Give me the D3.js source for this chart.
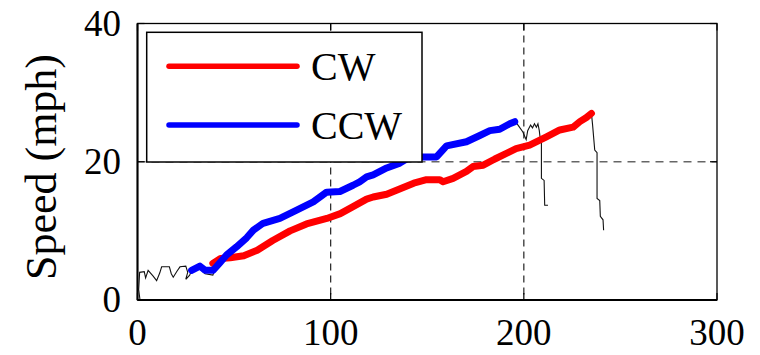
<!DOCTYPE html>
<html>
<head>
<meta charset="utf-8">
<script src="https://cdn.jsdelivr.net/npm/d3@7"></script>
<style>
  html, body { margin: 0; padding: 0; background: #fff; }
</style>
</head>
<body>
<svg id="chart" width="760" height="355"></svg>
<script>
// ---- data ----
const xTicks = [0, 100, 200, 300];
const yTicks = [0, 20, 40];
const seriesNames = ["CW", "CCW"];
const seriesColors = ["#ff0000", "#0000ff"];
const yLabel = "Speed (mph)";

// CW run (red)
const cwTime = [39, 43, 48, 55, 62, 70, 79, 87.5, 98, 105, 111.6, 118.6, 122, 129, 136, 143, 149.6, 156.5, 158.2, 163.4, 170.3, 173.7, 179, 185, 191, 196, 203, 211.7, 218.6, 225.5, 229, 232.4, 235];
const cwSpeed = [5.3, 6.0, 6.1, 6.4, 7.2, 8.6, 10.0, 11.0, 11.8, 12.5, 13.5, 14.6, 14.9, 15.3, 16.1, 16.9, 17.4, 17.4, 17.1, 17.6, 18.6, 19.3, 19.5, 20.4, 21.2, 21.9, 22.4, 23.6, 24.6, 25.0, 25.8, 26.4, 27.0];

// CCW run (blue)
const ccwTime = [28, 32.3, 35, 39.2, 42.7, 46.1, 51.3, 56.5, 60, 65, 73.7, 82.4, 91, 97.9, 104.8, 111.6, 115, 118.6, 122, 129, 135.8, 141, 154.8, 160, 170.3, 177.2, 182.4, 187.5, 192.7, 195.3];
const ccwSpeed = [4.3, 4.9, 4.3, 4.3, 5.4, 6.5, 7.7, 9.0, 10.1, 11.1, 11.8, 13.0, 14.2, 15.6, 15.7, 16.6, 17.1, 17.8, 18.1, 19.1, 19.8, 20.7, 20.7, 22.3, 22.9, 23.8, 24.5, 24.7, 25.5, 25.8];

// raw trace (thin black): start noise, CCW tail, CW tail
const rawStartTime = [1.3, 0.6, 1.1, 3.5, 4.2, 5.5, 8, 9.9, 11.5, 12.5, 16.5, 17.5, 18.5, 20.5, 22, 25, 26, 25, 27, 28, 32, 35, 39, 40];
const rawStartSpeed = [0, 1.5, 4.0, 4.1, 3.2, 4.3, 3.5, 2.8, 3.9, 4.8, 4.8, 3.8, 3.3, 4.2, 4.8, 4.9, 4.0, 3.0, 3.6, 4.3, 4.6, 3.8, 3.6, 4.3];
const rawCcwTailTime = [195.3, 197, 199.5, 201.2, 202, 203.5, 204.5, 205.5, 206.5, 207.3, 208, 208.5, 209.1, 209.1, 210.5, 210.8, 212.5];
const rawCcwTailSpeed = [25.8, 25.3, 24.3, 23.2, 24.5, 25.3, 24.9, 25.5, 25.0, 25.5, 24.5, 23.3, 22.7, 17.6, 17.3, 13.7, 13.7];
const rawCwTailTime = [235, 235.6, 236.7, 237.9, 237.9, 239.3, 239.6, 241, 241.3];
const rawCwTailSpeed = [27.0, 25.3, 21.7, 21.3, 14.7, 14.4, 12.1, 11.6, 10.1];

// ---- drawing ----
const FONT = "'Liberation Serif', Tinos, 'Times New Roman', Times, 'DejaVu Serif', 'Noto Serif', serif";
const svg = d3.select("#chart");
const pL = 137.5, pR = 717, pT = 23.5, pB = 300;
const x = d3.scaleLinear().domain([0, 300]).range([pL, pR]);
const y = d3.scaleLinear().domain([0, 40]).range([pB, pT]);

const zip = (a, b) => a.map((v, i) => [v, b[i]]);
const line = d3.line().x(d => x(d[0])).y(d => y(d[1]));

// grid lines (dashed) at interior ticks
svg.append("g").selectAll("line")
  .data(xTicks.filter(t => t > 0 && t < 300))
  .join("line")
  .attr("x1", d => x(d)).attr("x2", d => x(d))
  .attr("y1", pT).attr("y2", pB)
  .attr("stroke", "#222").attr("stroke-width", 1.2)
  .attr("stroke-dasharray", "7,5");
svg.append("g").selectAll("line")
  .data(yTicks.filter(t => t > 0 && t < 40))
  .join("line")
  .attr("x1", pL).attr("x2", pR)
  .attr("y1", d => y(d)).attr("y2", d => y(d))
  .attr("stroke", "#666").attr("stroke-width", 1.5)
  .attr("stroke-dasharray", "8,6");

// raw traces
[[rawStartTime, rawStartSpeed], [rawCcwTailTime, rawCcwTailSpeed], [rawCwTailTime, rawCwTailSpeed]].forEach(([t, s]) => {
  svg.append("path").datum(zip(t, s))
    .attr("d", line).attr("fill", "none")
    .attr("stroke", "#111").attr("stroke-width", 1.1)
    .attr("stroke-linejoin", "miter");
});

// series
const seriesData = [zip(cwTime, cwSpeed), zip(ccwTime, ccwSpeed)];
seriesData.forEach((d, i) => {
  svg.append("path").datum(d)
    .attr("d", line).attr("fill", "none")
    .attr("stroke", seriesColors[i]).attr("stroke-width", 7)
    .attr("stroke-linejoin", "round").attr("stroke-linecap", "round");
});

// frame
svg.append("rect")
  .attr("x", pL).attr("y", pT)
  .attr("width", pR - pL).attr("height", pB - pT)
  .attr("fill", "none").attr("stroke", "#000").attr("stroke-width", 1.3);
svg.append("line").attr("x1", pL).attr("x2", pL).attr("y1", pT).attr("y2", pB)
  .attr("stroke", "#000").attr("stroke-width", 2);
svg.append("line").attr("x1", pL).attr("x2", pR).attr("y1", pB).attr("y2", pB)
  .attr("stroke", "#000").attr("stroke-width", 2);

// inward ticks
const tl = 7;
xTicks.forEach(t => {
  svg.append("line").attr("x1", x(t)).attr("x2", x(t)).attr("y1", pB).attr("y2", pB - tl).attr("stroke", "#000").attr("stroke-width", 1.2);
  svg.append("line").attr("x1", x(t)).attr("x2", x(t)).attr("y1", pT).attr("y2", pT + tl).attr("stroke", "#000").attr("stroke-width", 1.2);
});
yTicks.forEach(t => {
  svg.append("line").attr("x1", pL).attr("x2", pL + tl).attr("y1", y(t)).attr("y2", y(t)).attr("stroke", "#000").attr("stroke-width", 1.2);
  svg.append("line").attr("x1", pR).attr("x2", pR - tl).attr("y1", y(t)).attr("y2", y(t)).attr("stroke", "#000").attr("stroke-width", 1.2);
});

// tick labels
svg.append("g").selectAll("text")
  .data(xTicks).join("text")
  .attr("x", d => x(d)).attr("y", 345)
  .attr("text-anchor", "middle")
  .attr("font-family", FONT).attr("font-size", 37)
  .text(d => d);
svg.append("g").selectAll("text")
  .data(yTicks).join("text")
  .attr("x", 121).attr("y", d => y(d) + 12)
  .attr("text-anchor", "end")
  .attr("font-family", FONT).attr("font-size", 37)
  .text(d => d);

// y label
svg.append("text")
  .attr("transform", "translate(56,167) rotate(-90)")
  .attr("text-anchor", "middle")
  .attr("font-family", FONT).attr("font-size", 44)
  .text(yLabel);

// legend
const lg = svg.append("g");
lg.append("rect")
  .attr("x", 146.7).attr("y", 32.3)
  .attr("width", 422 - 146.7).attr("height", 162 - 32.3)
  .attr("fill", "#fff").attr("stroke", "#000").attr("stroke-width", 1.5);
const legendRows = [66.3, 125];
seriesNames.forEach((n, i) => {
  lg.append("line")
    .attr("x1", 169).attr("x2", 297)
    .attr("y1", legendRows[i]).attr("y2", legendRows[i])
    .attr("stroke", seriesColors[i]).attr("stroke-width", 5.5)
    .attr("stroke-linecap", "round");
  lg.append("text")
    .attr("x", 311).attr("y", legendRows[i] + 13.5)
    .attr("font-family", FONT).attr("font-size", 40)
    .text(n);
});
</script>
</body>
</html>
